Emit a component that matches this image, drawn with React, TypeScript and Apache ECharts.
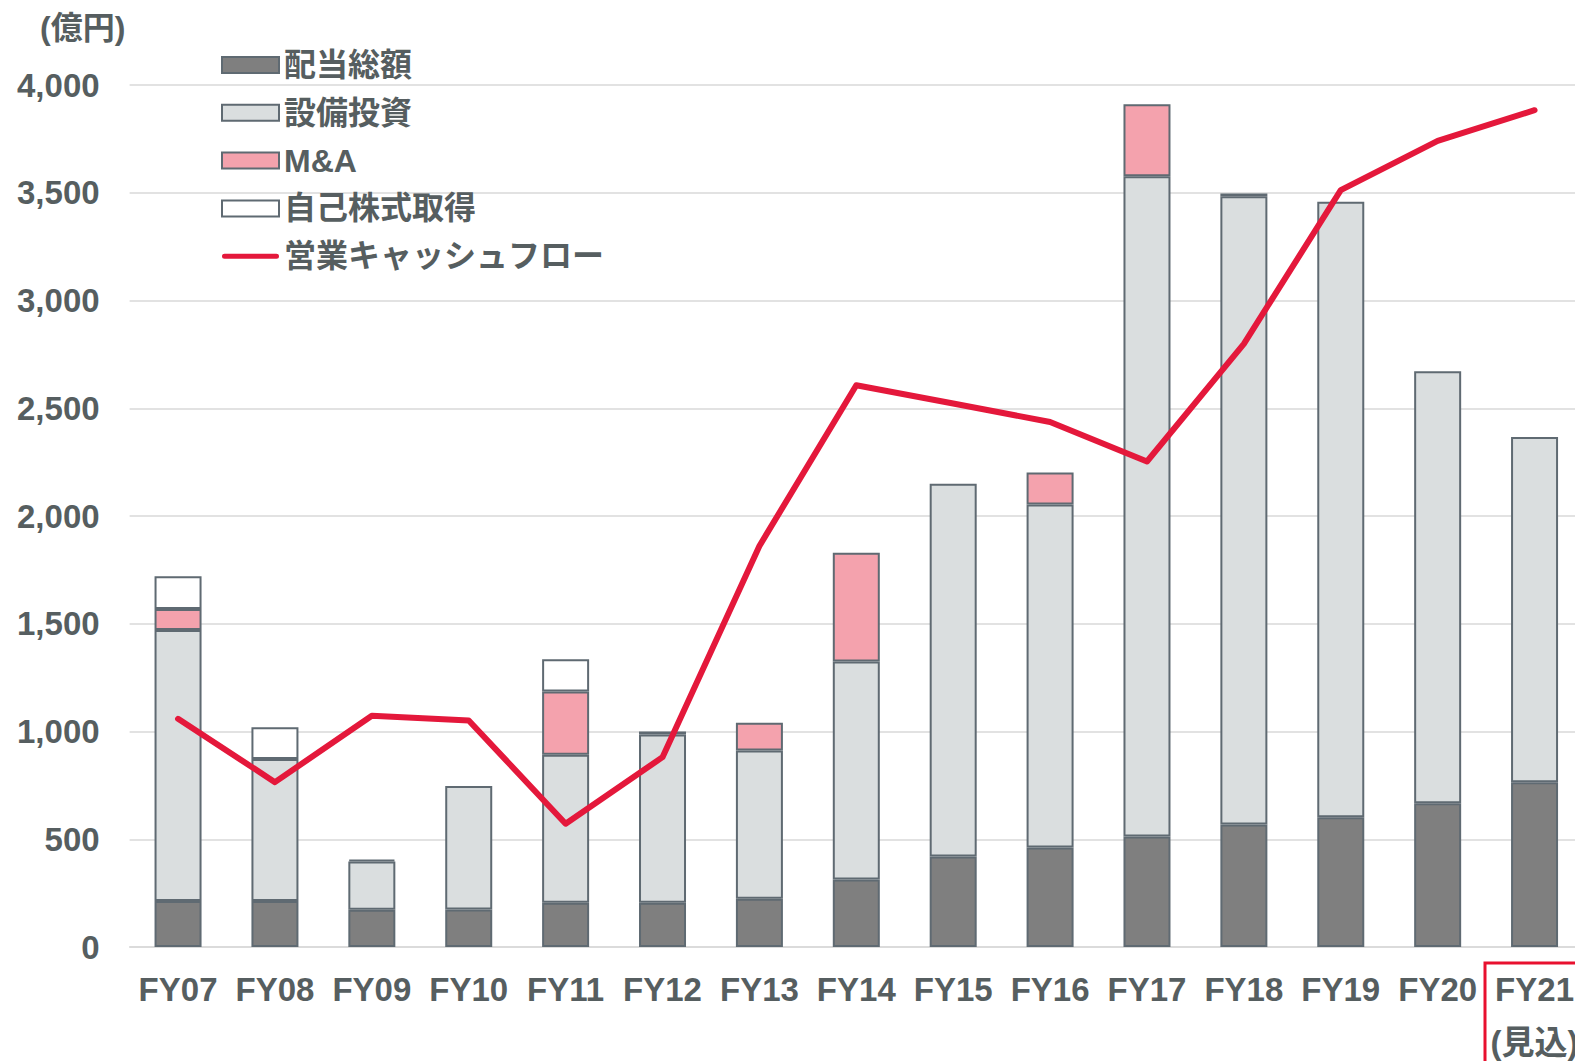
import React, { useEffect, useRef } from "react";
import * as echarts from "echarts";

const categories = ["FY07", "FY08", "FY09", "FY10", "FY11", "FY12", "FY13", "FY14", "FY15", "FY16", "FY17", "FY18", "FY19", "FY20", "FY21\n(見込)"];
const dividends = [213, 213, 173, 174, 205, 205, 224, 313, 420, 462, 513, 569, 602, 667, 765];
const capex = [1258, 659, 224, 573, 687, 781, 688, 1012, 1730, 1591, 3064, 2915, 2856, 2005, 1602];
const mna = [97, null, 8, null, 294, 14, 129, 504, null, 149, 334, 12, null, null, null];
const buyback = [152, 148, null, null, 149, null, null, null, null, null, null, null, null, null, null];
const operatingCF = [1059, 765, 1073, 1051, 572, 881, 1861, 2607, 2522, 2436, 2253, 2799, 3512, 3741, 3883];
const yTicks = [0, 500, 1000, 1500, 2000, 2500, 3000, 3500, 4000];

const TEXT = "#565e60";
const BORDER = "#5f6a72";
const RED = "#e4183b";
const FONT = '"Liberation Sans", "Noto Sans CJK JP", Arial, sans-serif';

export default function App() {
  const ref = useRef<HTMLDivElement>(null);
  useEffect(() => {
    if (!ref.current) return;
    const chart = echarts.init(ref.current, undefined, { renderer: "svg", width: 1600, height: 1061 });
    const barCommon = {
      type: "bar",
      stack: "total",
      barWidth: 47,
      itemStyle: { borderColor: BORDER, borderWidth: 2 },
    };
    chart.setOption({
      animation: false,
      textStyle: { fontFamily: FONT },
      grid: { left: 129.6, right: 17, top: 85, bottom: 114, outerBoundsMode: "none", containLabel: false },
      legend: {
        orient: "vertical",
        left: 216,
        top: 44,
        itemWidth: 57,
        itemHeight: 16,
        itemGap: 15.8,
        textStyle: { fontSize: 32, fontWeight: "bold", color: TEXT, fontFamily: FONT, lineHeight: 32 },
        data: [
          { name: "配当総額", icon: "rect" },
          { name: "設備投資", icon: "rect" },
          { name: "M&A", icon: "rect" },
          { name: "自己株式取得", icon: "rect" },
          {
            name: "営業キャッシュフロー",
            icon: "path://M5,0 L109,0 A5,5 0 0 1 109,10 L5,10 A5,5 0 0 1 5,0 Z",
            itemStyle: { color: RED, borderWidth: 0 },
          },
        ],
      },
      xAxis: {
        type: "category",
        data: categories,
        axisTick: { show: false },
        axisLine: { lineStyle: { color: "#d9d9d9", width: 1.5 } },
        axisLabel: {
          fontSize: 33,
          fontWeight: "bold",
          color: TEXT,
          fontFamily: FONT,
          margin: 16,
          lineHeight: 53,
          interval: 0,
        },
      },
      yAxis: {
        type: "value",
        min: yTicks[0],
        max: yTicks[yTicks.length - 1],
        interval: 500,
        axisLine: { show: false },
        axisTick: { show: false },
        splitLine: { lineStyle: { color: "#d9d9d9", width: 1.5 } },
        axisLabel: {
          fontSize: 33,
          fontWeight: "bold",
          color: TEXT,
          fontFamily: FONT,
          margin: 30,
          formatter: (v: number) => v.toLocaleString("en-US"),
        },
      },
      graphic: [
        {
          type: "text",
          left: 40,
          top: 12,
          style: { text: "(億円)", fontSize: 32, fontWeight: "bold", fill: TEXT, fontFamily: FONT },
        },
        {
          type: "rect",
          shape: { x: 1485, y: 963, width: 200, height: 200 },
          style: { fill: "none", stroke: "#e8102e", lineWidth: 3 },
          z: 100,
        },
      ],
      series: [
        { ...barCommon, name: "配当総額", data: dividends, itemStyle: { ...barCommon.itemStyle, color: "#7f7f7f" } },
        { ...barCommon, name: "設備投資", data: capex, itemStyle: { ...barCommon.itemStyle, color: "#dadedf" } },
        { ...barCommon, name: "M&A", data: mna, itemStyle: { ...barCommon.itemStyle, color: "#f4a2ad" } },
        { ...barCommon, name: "自己株式取得", data: buyback, itemStyle: { ...barCommon.itemStyle, color: "#ffffff" } },
        {
          type: "line",
          name: "営業キャッシュフロー",
          data: operatingCF,
          symbol: "none",
          z: 10,
          itemStyle: { color: RED },
          lineStyle: { color: RED, width: 6, cap: "round", join: "round" },
        },
      ],
    });
    return () => chart.dispose();
  }, []);
  return (
    <div style={{ position: "fixed", left: 0, top: 0, width: 1575, height: 1061, overflow: "hidden", background: "#fff" }}>
      <div ref={ref} style={{ width: 1600, height: 1061 }} />
    </div>
  );
}
